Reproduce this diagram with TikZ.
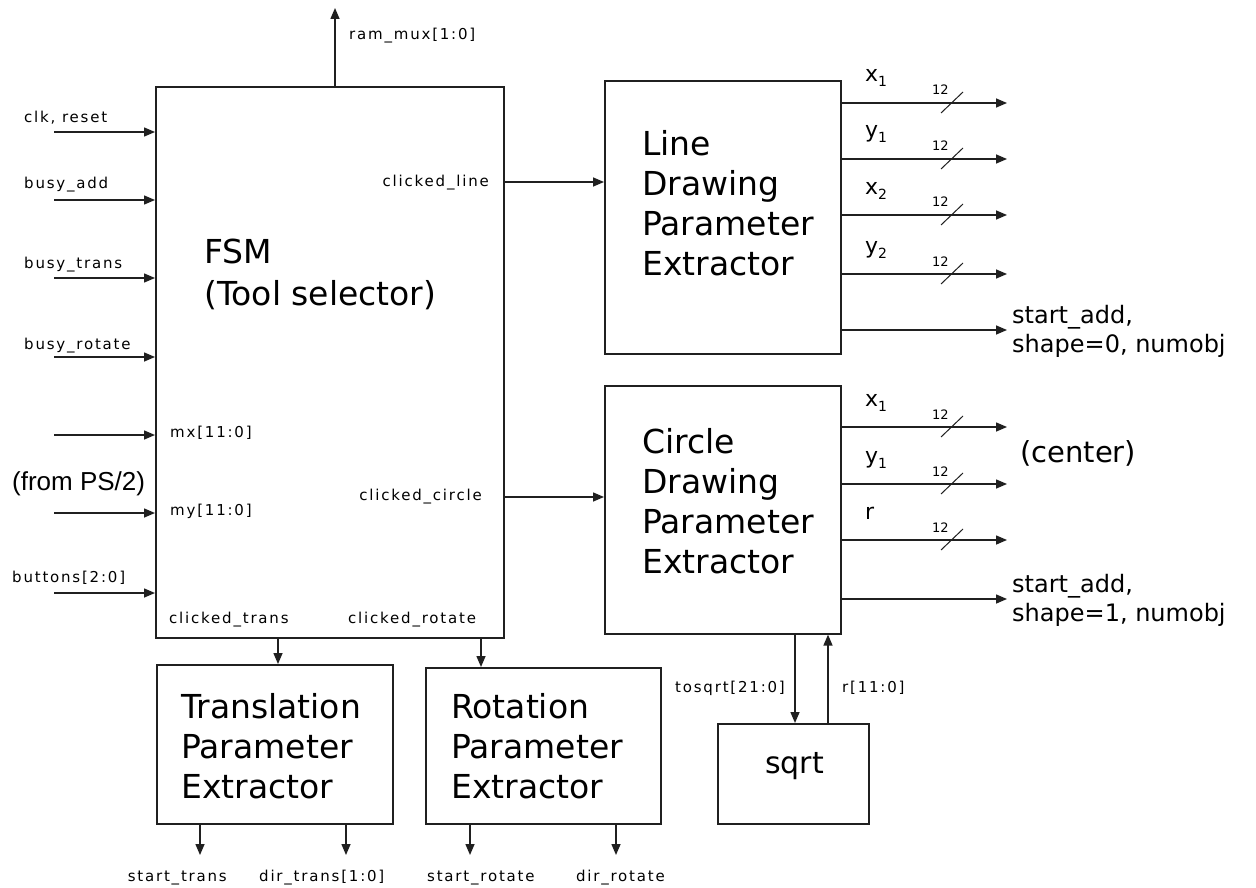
\documentclass[tikz,border=0pt]{standalone}
\usepackage{fontspec}
\setmainfont{DejaVu Sans}
\newfontfamily\sigfont[LetterSpace=12]{DejaVu Sans}
\newfontfamily\psfont{Liberation Sans}
\usetikzlibrary{arrows.meta}
\definecolor{ink}{HTML}{202020}
\newcommand{\lowidx}[1]{\raisebox{-5pt}{\fontsize{14}{14}\selectfont #1}}

\begin{document}
\begin{tikzpicture}[x=1pt,y=-1pt,
  blk/.style={draw=ink, line width=1.6pt, inner sep=0pt, anchor=north west},
  sig/.style={draw=ink, line width=1.5pt, -{Triangle[length=11pt,width=9pt]}},
  slash/.style={draw=ink, line width=1pt},
  small/.style={font=\sigfont\fontsize{15}{18}\selectfont, inner sep=0pt, anchor=base west},
  title/.style={font=\fontsize{33}{40}\selectfont, inner sep=0pt, anchor=base west, align=left},
  port/.style={font=\fontsize{22}{26}\selectfont, inner sep=0pt, anchor=base west},
  width/.style={font=\fontsize{13}{15}\selectfont, inner sep=0pt, anchor=base west},
  outlbl/.style={font=\fontsize{24}{29}\selectfont, inner sep=0pt, anchor=base west, align=left}]
\useasboundingbox (0,0) rectangle (1256,888);
\fill[white] (0,0) rectangle (1256,888);

% ---------- blocks ----------
\node[blk, minimum width=348pt, minimum height=551pt] (fsm)   at (155,86)  {};
\node[blk, minimum width=236pt, minimum height=273pt] (line)  at (604,80)  {};
\node[blk, minimum width=236pt, minimum height=248pt] (circ)  at (604,385) {};
\node[blk, minimum width=236pt, minimum height=159pt] (trans) at (156,664) {};
\node[blk, minimum width=235pt, minimum height=156pt] (rot)   at (425,667) {};
\node[blk, minimum width=151pt, minimum height=100pt] (sqrt)  at (717,723) {};

% ---------- block titles (anchored at the baseline of the last line) ----------
\node[title, font=\fontsize{33}{42}\selectfont] (fsmt) at (204,305) {FSM\\(Tool selector)};
\node[title] (linet)  at (642,275) {Line\\Drawing\\Parameter\\Extractor};
\node[title] (circt)  at (642,573) {Circle\\Drawing\\Parameter\\Extractor};
\node[title] (transt) at (181,798) {Translation\\Parameter\\Extractor};
\node[title] (rott)   at (451,798) {Rotation\\Parameter\\Extractor};
\node[title, font=\fontsize{30}{36}\selectfont] (sqrtt) at (765,773) {sqrt};

% ---------- FSM inputs ----------
\foreach \nm/\y in {i1/132, i2/200, i3/278, i4/357, i5/435, i6/513, i7/593}{
  \coordinate (\nm) at (54,\y);
  \draw[sig] (\nm) -- (fsm.west |- \nm);
}
\node[small] (lclk)  at (24,123) {clk, reset};
\node[small] (ladd)  at (24,189) {busy\_add};
\node[small] (ltr)   at (24,268) {busy\_trans};
\node[small] (lrot)  at (24,349) {busy\_rotate};
\node[small] (lbtn)  at (12,582) {buttons[2:0]};
\node[small] (lmx)   at (170,437) {mx[11:0]};
\node[small] (lmy)   at (170,515) {my[11:0]};
\node[inner sep=0pt, anchor=base west, font=\psfont\fontsize{26}{30}\selectfont] (lps) at (12,490) {(from PS/2)};

% ---------- FSM top output ----------
\coordinate (ram) at (335,8);
\draw[sig] (fsm.north -| ram) -- (ram);
\node[small] (lram) at (349,40) {ram\_mux[1:0]};

% ---------- FSM to extractors ----------
\coordinate (cl) at (0,182);
\coordinate (cc) at (0,497);
\draw[sig] (fsm.east |- cl) -- (line.west |- cl);
\draw[sig] (fsm.east |- cc) -- (circ.west |- cc);
\node[small, anchor=base east] (lcl) at (489,186) {clicked\_line};
\node[small, anchor=base east] (lcc) at (482,500) {clicked\_circle};

\coordinate (ct) at (278,0);
\coordinate (cr) at (481,0);
\draw[sig] (fsm.south -| ct) -- (trans.north -| ct);
\draw[sig] (fsm.south -| cr) -- (rot.north -| cr);
\node[small] (lct) at (169,623) {clicked\_trans};
\node[small] (lcr) at (348,623) {clicked\_rotate};

% ---------- bottom outputs ----------
\foreach \nm/\x in {o1/200, o2/346, o3/470, o4/616}{
  \coordinate (\nm) at (\x,855);
}
\draw[sig] (trans.south -| o1) -- (o1);
\draw[sig] (trans.south -| o2) -- (o2);
\draw[sig] (rot.south -| o3) -- (o3);
\draw[sig] (rot.south -| o4) -- (o4);
\node[small, anchor=base east] (lst) at (227,881) {start\_trans};
\node[small] (ldt) at (259,881) {dir\_trans[1:0]};
\node[small] (lsr) at (427,881) {start\_rotate};
\node[small, anchor=base east] (ldr) at (665,881) {dir\_rotate};

% ---------- line extractor outputs ----------
\foreach \nm/\y in {la/103, lb/159, lc/215, ld/274, le/330}{
  \coordinate (\nm) at (1007,\y);
  \draw[sig] (line.east |- \nm) -- (\nm);
}
\foreach \y in {103, 159, 215, 274}{
  \draw[slash] (941,\y+10) -- (963,\y-11);
  \node[width] at (932,\y-8) {12};
}
\node[port] (lx1) at (865,82)  {x\lowidx{1}};
\node[port] (ly1) at (865,138) {y\lowidx{1}};
\node[port] (lx2) at (865,194) {x\lowidx{2}};
\node[port] (ly2) at (865,253) {y\lowidx{2}};
\node[outlbl] (lsa) at (1012,352) {start\_add,\\shape=0, numobj};

% ---------- circle extractor outputs ----------
\foreach \nm/\y in {ca/427, cb/484, cc2/540, cd/599}{
  \coordinate (\nm) at (1007,\y);
  \draw[sig] (circ.east |- \nm) -- (\nm);
}
\foreach \y in {427, 484, 540}{
  \draw[slash] (941,\y+10) -- (963,\y-11);
  \node[width] at (932,\y-8) {12};
}
\node[port] (cx1) at (865,406) {x\lowidx{1}};
\node[port] (cy1) at (865,463) {y\lowidx{1}};
\node[port] (cr1) at (865,519) {r};
\node[title, font=\fontsize{29}{34}\selectfont] (lcen) at (1020,462) {(center)};
\node[outlbl] (csa) at (1012,621) {start\_add,\\shape=1, numobj};

% ---------- sqrt handshake ----------
\coordinate (tq) at (795,0);
\coordinate (rq) at (828,0);
\draw[sig] (circ.south -| tq) -- (sqrt.north -| tq);
\draw[sig] (sqrt.north -| rq) -- (circ.south -| rq);
\node[small] (ltq) at (675,692) {tosqrt[21:0]};
\node[small] (lrq) at (842,692) {r[11:0]};
\end{tikzpicture}
\end{document}
